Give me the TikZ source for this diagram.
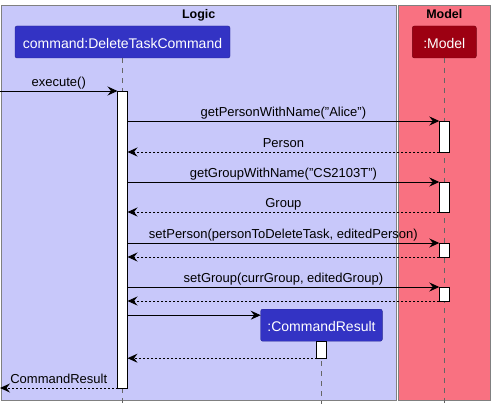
\documentclass[tikz,border=0pt]{standalone}
\usepackage{fontspec}
\setmainfont{Liberation Sans}
\usetikzlibrary{arrows.meta, positioning}
\definecolor{logicbg}{HTML}{C8C8FA}
\definecolor{logicfg}{HTML}{3333C4}
\definecolor{modelbg}{HTML}{F97181}
\definecolor{modelfg}{HTML}{9D0012}

\begin{document}
\begin{tikzpicture}[x=1pt, y=-1pt,
        pkg/.style={draw=black!50, line width=1pt, anchor=north west, inner sep=0pt, outer sep=0pt},
        pkgtitle/.style={font=\fontsize{12.5}{14}\selectfont\bfseries, anchor=base, inner sep=0pt},
        part/.style={draw=#1!75!black, fill=#1, rounded corners=2pt, text=white, minimum height=32pt, inner sep=0pt, outer sep=0pt, text height=13pt, text depth=0pt, font=\fontsize{14}{16}\selectfont},
        act/.style={draw, fill=white, minimum width=10pt, inner sep=0pt, outer sep=0pt, line width=1pt},
        life/.style={draw=black!60, dash pattern=on 5pt off 5pt, line width=0.8pt},
        msg/.style={-{Stealth[length=10pt, width=9pt, inset=3.5pt]}, line width=0.9pt},
        ret/.style={msg, dash pattern=on 2pt off 2pt},
        lbl/.style={midway, anchor=south, inner sep=0pt, text depth=0pt, yshift=4pt, font=\fontsize{13}{15}\selectfont}
    ]
        \useasboundingbox (0,0) rectangle (495,412);

        % packages
        \node[pkg, fill=logicbg, minimum width=395.5pt, minimum height=394pt] (logic) at (1,6) {};
        \node[pkg, fill=modelbg, minimum width=92pt, minimum height=394pt] (modelpkg) at (398.3,6) {};
        \node[pkgtitle] (logictitle) at ([yshift=-12.5pt]logic.north) {Logic};
        \node[pkgtitle] (modeltitle) at ([yshift=-12.5pt]modelpkg.north) {Model};

        % participants
        \node[part=logicfg, minimum width=215pt] (cmd) at (122.5,42) {command:DeleteTaskCommand};
        \node[part=modelfg, minimum width=64pt] (model) at (444.3,42) {:Model};
        \node[part=logicfg, minimum width=121.6pt] (res) at (321.5,325.2) {:CommandResult};

        % lifelines
        \coordinate (bottom) at (0,404);
        \draw[life] (cmd.south) -- (cmd.south |- bottom);
        \draw[life] (model.south) -- (model.south |- bottom);
        \draw[life] (res.south) -- (res.south |- bottom);

        % activations
        \node[act, minimum height=297pt, below=33pt of cmd] (cmdact) {};
        \node[act, minimum height=31pt, below=63pt of model] (a1) {};
        \node[act, minimum height=30pt, below=30pt of a1] (a2) {};
        \node[act, minimum height=14pt, below=31pt of a2] (a3) {};
        \node[act, minimum height=14pt, below=30pt of a3] (a4) {};
        \node[act, minimum height=17pt, below=0pt of res] (resact) {};

        % messages
        \coordinate (entry) at (0,91);
        \coordinate (exit) at (0,388);
        \coordinate (mkres) at ([yshift=-6pt]res.north west);
        \draw[msg] (entry) -- (cmdact.north west) node[lbl] {execute()};
        \draw[msg] (cmdact.east |- a1.north) -- (a1.north west) node[lbl] {getPersonWithName("Alice")};
        \draw[ret] (a1.south west) -- (cmdact.east |- a1.south) node[lbl] {Person};
        \draw[msg] (cmdact.east |- a2.north) -- (a2.north west) node[lbl] {getGroupWithName("CS2103T")};
        \draw[ret] (a2.south west) -- (cmdact.east |- a2.south) node[lbl] {Group};
        \draw[msg] (cmdact.east |- a3.north) -- (a3.north west) node[lbl] {setPerson(personToDeleteTask, editedPerson)};
        \draw[ret] (a3.south west) -- (cmdact.east |- a3.south);
        \draw[msg] (cmdact.east |- a4.north) -- (a4.north west) node[lbl] {setGroup(currGroup, editedGroup)};
        \draw[ret] (a4.south west) -- (cmdact.east |- a4.south);
        \draw[msg] (cmdact.east |- mkres) -- (mkres);
        \draw[ret] (resact.south west) -- (cmdact.east |- resact.south);
        \draw[ret] (cmdact.south west) -- (exit) node[lbl] {CommandResult};
    \end{tikzpicture}
\end{document}
